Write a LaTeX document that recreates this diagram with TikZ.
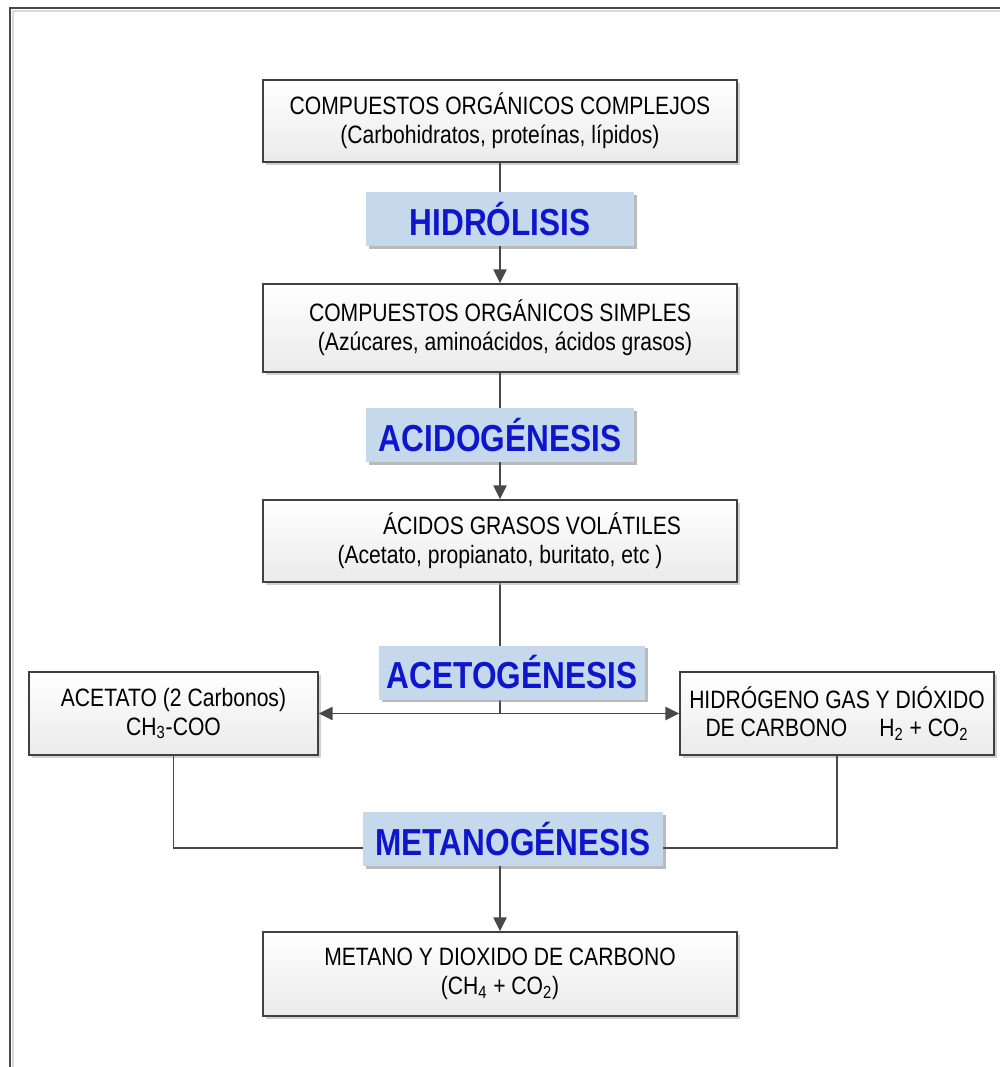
\documentclass[tikz,border=0pt]{standalone}
\usepackage{fontspec}
\setmainfont[FakeStretch=0.84]{Liberation Sans}
\usetikzlibrary{arrows.meta,shadows,backgrounds}
\definecolor{stageblue}{RGB}{197,216,236}
\definecolor{stagetext}{RGB}{14,22,204}
\definecolor{linkgray}{RGB}{72,72,72}

\begin{document}
\begin{tikzpicture}[x=0.02cm,y=-0.02cm,
  procbox/.style={draw=black!75,line width=0.8pt,top color=white,bottom color=black!8,
    minimum width=9.48cm,minimum height=1.64cm,inner sep=0pt,align=center,
    font=\fontsize{14.3}{16.5}\selectfont,
    drop shadow={shadow xshift=1.5pt,shadow yshift=-1.5pt,fill=black!30,opacity=0.6}},
  stagelabel/.style={fill=stageblue,minimum width=5.36cm,minimum height=1.08cm,inner sep=0pt,
    text=stagetext,font=\fontsize{21.4}{24}\selectfont\bfseries,
    drop shadow={shadow xshift=1.5pt,shadow yshift=-1.5pt,fill=black!45,opacity=0.6}},
  link/.style={draw=linkgray,line width=1.1pt},
  flow/.style={link,-{Triangle[length=8pt,width=7.5pt]}},
]
\useasboundingbox (0,0) rectangle (1000,1067);
% frame
\draw [black!15,line width=1.5pt] (13,1067) -- (13,11) -- (1000,11);
\draw [linkgray,line width=1.1pt] (10,1067) -- (10,8) -- (1000,8);

\node (complejos) at (500,121) [procbox] {COMPUESTOS ORGÁNICOS COMPLEJOS\\(Carbohidratos, proteínas, lípidos)};
\node (hidrolisis) at (500,219) [stagelabel] {HIDRÓLISIS};
\node (simples) at (500,328) [procbox,minimum height=1.76cm] {COMPUESTOS ORGÁNICOS SIMPLES\\\hspace*{0.2cm}(Azúcares, aminoácidos, ácidos grasos)};
\node (acido) at (500,435) [stagelabel] {ACIDOGÉNESIS};
\node (volatiles) at (500,541) [procbox] {\hspace*{1.28cm}ÁCIDOS GRASOS VOLÁTILES\\(Acetato, propianato, buritato, etc )};
\node (aceto) at (512,672.5) [stagelabel,minimum width=5.32cm] {ACETOGÉNESIS};
\node (acetato) at (173.5,713.5) [procbox,minimum width=5.78cm,minimum height=1.66cm] {ACETATO (2 Carbonos)\\CH\textsubscript{3}-COO};
\node (hidrogeno) at (837,713.5) [procbox,minimum width=6.28cm,minimum height=1.66cm] {HIDRÓGENO GAS Y DIÓXIDO\\DE CARBONO\hspace{0.64cm}H\textsubscript{2} + CO\textsubscript{2}};
\node (metano) at (513,839) [stagelabel,minimum width=6cm] {METANOGÉNESIS};
\node (final) at (500,974) [procbox,minimum height=1.68cm] {METANO Y DIOXIDO DE CARBONO\\(CH\textsubscript{4} + CO\textsubscript{2})};

\coordinate (split) at (volatiles.south |- acetato.east);

\draw [link] (complejos) -- (hidrolisis);
\draw [flow] (hidrolisis) -- (simples);
\draw [link] (simples) -- (acido);
\draw [flow] (acido) -- (volatiles);
\begin{scope}[on background layer]
\draw [link] (volatiles) -- (split);
\end{scope}
\draw [flow] (split) -- (acetato.east);
\draw [flow] (split) -- (hidrogeno.west);
\draw [link] (acetato.south) |- ([yshift=-0.18cm]metano.west);
\draw [link] (hidrogeno.south) |- ([yshift=-0.18cm]metano.east);
\draw [flow] (metano.south -| final.north) -- (final.north);
\end{tikzpicture}
\end{document}
